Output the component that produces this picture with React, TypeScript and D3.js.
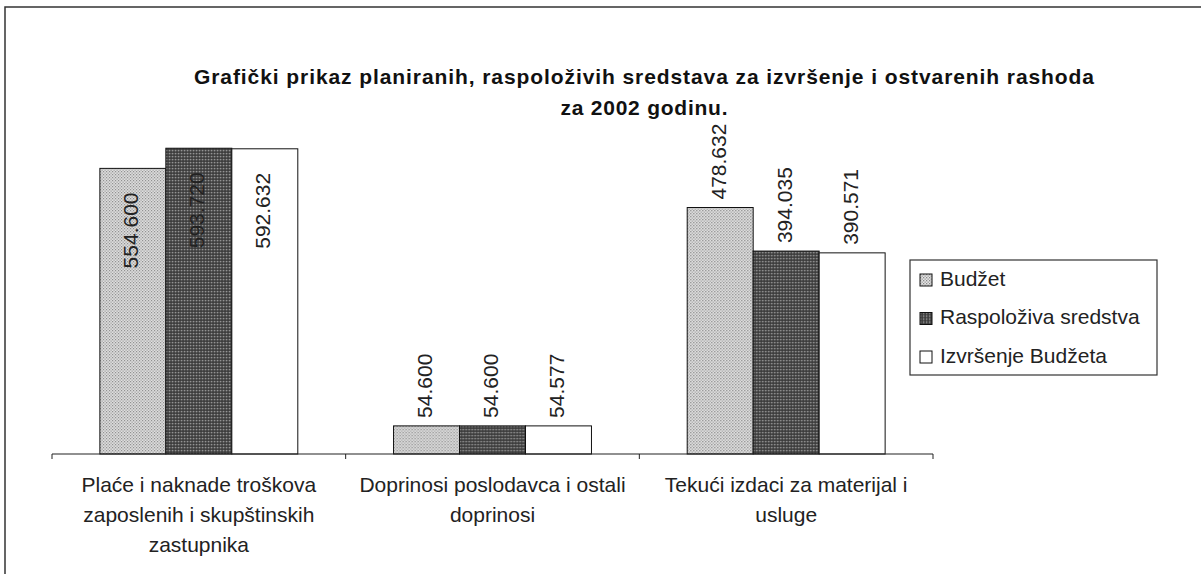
import * as d3 from 'd3';

const categories = [
  ['Plaće i naknade troškova', 'zaposlenih i skupštinskih', 'zastupnika'],
  ['Doprinosi poslodavca i ostali', 'doprinosi'],
  ['Tekući izdaci za materijal i', 'usluge'],
];
const seriesNames = ['Budžet', 'Raspoloživa sredstva', 'Izvršenje Budžeta'];
const budzet = [554.6, 54.6, 478.632];
const raspoloziva = [593.72, 54.6, 394.035];
const izvrsenje = [592.632, 54.577, 390.571];
const titleLines = [
  'Grafički prikaz planiranih, raspoloživih sredstava za izvršenje i ostvarenih rashoda',
  'za 2002 godinu.',
];
const titleWidths = [900, 167];

const series = [budzet, raspoloziva, izvrsenje];
const fills = ['url(#patLight)', 'url(#patDark)', '#ffffff'];
const font = '"Liberation Sans", Arial, sans-serif';

const fmt = (v: number) => v.toFixed(3);

export default function App() {
  const left = 52;
  const right = 933;
  const top = 145;
  const bottom = 454;

  const x0 = d3.scaleBand<number>()
    .domain(categories.map((_, i) => i))
    .range([left, right])
    .paddingInner(0.326)
    .paddingOuter(0.163);
  const x1 = d3.scaleBand<number>()
    .domain(series.map((_, i) => i))
    .range([0, x0.bandwidth()]);
  const y = d3.scaleLinear().domain([0, 600]).range([bottom, top]);

  const step = (right - left) / categories.length;
  const ticks = d3.range(categories.length + 1).map(i => left + i * step);

  return (
    <svg width={1201} height={574}
      style={{ position: 'absolute', left: 0, top: 0, background: '#fff' }}
      fontFamily={font}>
      <defs>
        <pattern id="patLight" width="3" height="3" patternUnits="userSpaceOnUse">
          <rect width="3" height="3" fill="#e4e4e4" />
          <rect x="0" y="0" width="1.3" height="1.3" fill="#8a8a8a" />
          <rect x="1.5" y="1.5" width="1.3" height="1.3" fill="#9a9a9a" />
        </pattern>
        <pattern id="patDark" width="3" height="3" patternUnits="userSpaceOnUse">
          <rect width="3" height="3" fill="#4a4a4a" />
          <rect x="0" y="0" width="1.3" height="1.3" fill="#9a9a9a" />
          <rect x="1.5" y="1.5" width="1.2" height="1.2" fill="#2a2a2a" />
        </pattern>
      </defs>

      <rect x={5} y={7} width={1300} height={700} fill="none" stroke="#333" strokeWidth={1.5} />

      {titleLines.map((t, i) => (
        <text key={i} x={644} y={84 + i * 31} textAnchor="middle" fontWeight="bold"
          fontSize={21} fill="#111" textLength={titleWidths[i]} lengthAdjust="spacing">{t}</text>
      ))}

      {categories.map((_, ci) => (
        <g key={ci} transform={`translate(${x0(ci)},0)`}>
          {series.map((s, si) => {
            const v = s[ci];
            const bx = x1(si)!;
            const bw = x1.bandwidth();
            const yt = y(v);
            const cx = bx + bw / 2;
            const inside = yt - 8 - 80 < 100;
            const ly = inside ? yt + 20 + 80 : yt - 8;
            return (
              <g key={si}>
                <rect x={bx} y={yt} width={bw} height={bottom - yt}
                  fill={fills[si]} stroke="#111" strokeWidth={1} />
                <text transform={`translate(${cx},${ly}) rotate(-90)`}
                  dominantBaseline="middle" fontSize={21} fill="#222">{fmt(v)}</text>
              </g>
            );
          })}
        </g>
      ))}

      <line x1={left} x2={right} y1={bottom} y2={bottom} stroke="#222" strokeWidth={1.2} />
      {ticks.map((t, i) => (
        <line key={i} x1={t} x2={t} y1={bottom} y2={bottom + 5} stroke="#222" strokeWidth={1} />
      ))}

      {categories.map((lines, ci) => (
        <text key={ci} x={x0(ci)! + x0.bandwidth() / 2} y={492} textAnchor="middle"
          fontSize={21} fill="#222">
          {lines.map((l, li) => (
            <tspan key={li} x={x0(ci)! + x0.bandwidth() / 2} y={492 + li * 30}>{l}</tspan>
          ))}
        </text>
      ))}

      <rect x={910} y={260} width={247} height={115} fill="#fff" stroke="#333" strokeWidth={1.2} />
      {seriesNames.map((n, i) => (
        <g key={i} transform={`translate(920,${280 + i * 38.5})`}>
          <rect x={0} y={-6} width={12} height={12} fill={fills[i]} stroke="#111" strokeWidth={1} />
          <text x={20} y={0} dominantBaseline="middle" fontSize={21} fill="#222">{n}</text>
        </g>
      ))}
    </svg>
  );
}
